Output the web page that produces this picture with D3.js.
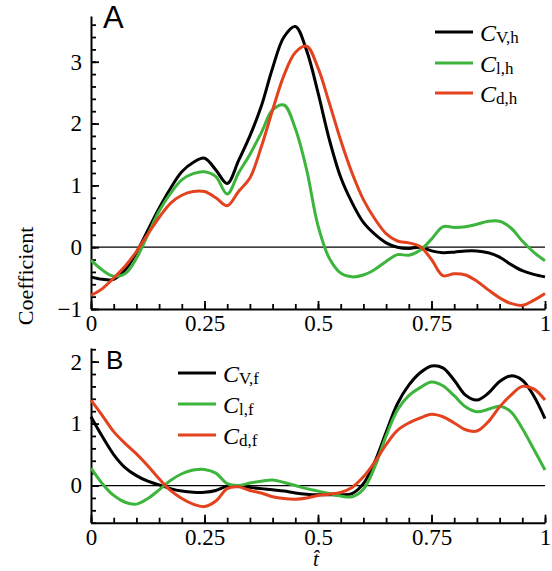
<!DOCTYPE html>
<html lang="en">
<head>
<meta charset="UTF-8">
<title>Coefficients</title>
<style>
  body { margin: 0; background: #fff; }
</style>
</head>
<body>
<svg id="chart"></svg>
<script src="https://cdn.jsdelivr.net/npm/d3@7"></script>
<script>

// normalised time, shared by both panels
var tHat = [0, 0.025, 0.05, 0.075, 0.1, 0.125, 0.15, 0.175, 0.2, 0.225,
            0.25, 0.275, 0.3, 0.325, 0.35, 0.375, 0.4, 0.425, 0.45, 0.475,
            0.5, 0.525, 0.55, 0.575, 0.6, 0.625, 0.65, 0.675, 0.7, 0.725,
            0.75, 0.775, 0.8, 0.825, 0.85, 0.875, 0.9, 0.925, 0.95, 0.975, 1];

// panel A (h)
var cVh = [-0.48, -0.52, -0.52, -0.37, -0.09, 0.27, 0.63, 0.95, 1.22, 1.37,
           1.44, 1.25, 1.03, 1.40, 1.80, 2.28, 2.90, 3.40, 3.57, 3.18,
           2.50, 1.74, 1.13, 0.72, 0.40, 0.21, 0.07, 0.00, -0.02, 0.00,
           -0.06, -0.09, -0.08, -0.06, -0.06, -0.09, -0.16, -0.28, -0.38, -0.44, -0.48];
var cLh = [-0.21, -0.37, -0.47, -0.43, -0.18, 0.20, 0.58, 0.87, 1.09, 1.19,
           1.22, 1.14, 0.86, 1.20, 1.50, 1.85, 2.22, 2.30, 1.92, 1.25,
           0.35, -0.18, -0.42, -0.48, -0.45, -0.36, -0.23, -0.12, -0.13, -0.05,
           0.13, 0.33, 0.32, 0.33, 0.37, 0.42, 0.42, 0.31, 0.10, -0.08, -0.22];
var cDh = [-0.78, -0.67, -0.50, -0.31, -0.07, 0.21, 0.48, 0.71, 0.84, 0.90,
           0.90, 0.80, 0.67, 0.90, 1.12, 1.62, 2.22, 2.78, 3.15, 3.25,
           2.90, 2.33, 1.73, 1.20, 0.77, 0.46, 0.22, 0.10, 0.07, 0.01,
           -0.20, -0.46, -0.43, -0.45, -0.55, -0.69, -0.82, -0.91, -0.94, -0.86, -0.75];

// panel B (f)
var cVf = [1.11, 0.79, 0.50, 0.29, 0.16, 0.07, 0.01, -0.05, -0.09, -0.11,
           -0.11, -0.08, -0.01, 0.00, -0.03, -0.05, -0.07, -0.09, -0.12, -0.14,
           -0.15, -0.15, -0.15, -0.13, 0.03, 0.38, 0.86, 1.32, 1.62, 1.82,
           1.93, 1.90, 1.70, 1.46, 1.38, 1.49, 1.68, 1.77, 1.70, 1.45, 1.08];
var cLf = [0.28, 0.03, -0.16, -0.27, -0.30, -0.21, -0.07, 0.08, 0.19, 0.25,
           0.26, 0.20, 0.03, 0.00, 0.04, 0.07, 0.09, 0.05, 0.00, -0.05,
           -0.09, -0.13, -0.17, -0.18, -0.06, 0.30, 0.80, 1.22, 1.45, 1.58,
           1.67, 1.61, 1.45, 1.27, 1.19, 1.23, 1.28, 1.19, 0.92, 0.59, 0.25];
var cDf = [1.38, 1.13, 0.87, 0.68, 0.51, 0.32, 0.11, -0.08, -0.21, -0.30,
           -0.34, -0.25, -0.05, -0.02, -0.08, -0.12, -0.18, -0.21, -0.22, -0.20,
           -0.16, -0.14, -0.11, -0.03, 0.14, 0.38, 0.66, 0.89, 1.01, 1.09,
           1.15, 1.11, 1.01, 0.90, 0.88, 1.03, 1.27, 1.46, 1.60, 1.56, 1.38];

var namesA = ["V,h", "l,h", "d,h"];
var namesB = ["V,f", "l,f", "d,f"];
var colors = ["#000000", "#3db53d", "#e3421f"];

var xTicks = [0, 0.25, 0.5, 0.75, 1];
var xTickLabels = ["0", "0.25", "0.5", "0.75", "1"];
var yTicksA = [-1, 0, 1, 2, 3];
var yTicksB = [0, 1, 2];

var serif = '"Liberation Serif", "Times New Roman", Times, serif';
var sans = '"Liberation Sans", Arial, Helvetica, sans-serif';

var svgWidth = 552, svgHeight = 571;
var svg = d3.select('#chart')
    .attr('width', svgWidth)
    .attr('height', svgHeight);

var x = d3.scaleLinear().domain([0, 1]).range([91, 545]);

var panels = [
    {
        letter: "A", letterX: 103, letterY: 28, letterSize: 31,
        y: d3.scaleLinear().domain([-1, 3.74]).range([309, 16]),
        yTicks: yTicksA, minorFrom: -1, minorTo: 3.7,
        series: [cVh, cLh, cDh], names: namesA,
        legX: 435, legY: [32, 63, 93]
    },
    {
        letter: "B", letterX: 106, letterY: 369, letterSize: 26,
        y: d3.scaleLinear().domain([-0.6, 2.22]).range([522.7, 348]),
        yTicks: yTicksB, minorFrom: -0.6, minorTo: 2.21,
        series: [cVf, cLf, cDf], names: namesB,
        legX: 178, legY: [373, 404, 435]
    }
];

panels.forEach(function (p) {
    var g = svg.append('g');
    var y = p.y;
    var y0 = y.range()[0];

    // minor ticks
    g.append('g')
        .attr('transform', 'translate(91,0)')
        .call(d3.axisLeft(y).tickValues(d3.range(p.minorFrom, p.minorTo, 0.2)).tickSize(-5).tickFormat(''))
        .call(function (a) { a.select('.domain').remove(); });
    g.append('g')
        .attr('transform', 'translate(0,' + y0 + ')')
        .call(d3.axisBottom(x).tickValues(d3.range(0, 1.001, 0.05)).tickSize(-5).tickFormat(''))
        .call(function (a) { a.select('.domain').remove(); });

    // major axes
    var ya = g.append('g')
        .attr('transform', 'translate(91,0)')
        .call(d3.axisLeft(y).tickValues(p.yTicks).tickSize(-8).tickSizeOuter(0).tickPadding(9)
            .tickFormat(d3.format('')));
    var xa = g.append('g')
        .attr('transform', 'translate(0,' + y0 + ')')
        .call(d3.axisBottom(x).tickValues(xTicks).tickSize(-8).tickSizeOuter(0).tickPadding(6)
            .tickFormat(function (d, i) { return xTickLabels[i]; }));

    [ya, xa].forEach(function (a) {
        a.selectAll('text').style('font-family', serif).style('font-size', '23px');
        a.select('.domain').attr('stroke-width', 2);
    });
    g.selectAll('.tick line').attr('stroke-width', 1.8);

    // zero line
    g.append('line')
        .attr('x1', x(0)).attr('x2', x(1))
        .attr('y1', y(0)).attr('y2', y(0))
        .attr('stroke', '#000').attr('stroke-width', 1.3);

    var line = d3.line()
        .x(function (d, i) { return x(tHat[i]); })
        .y(function (d) { return y(d); })
        .curve(d3.curveCatmullRom.alpha(0.5));

    p.series.forEach(function (s, k) {
        g.append('path')
            .attr('d', line(s))
            .attr('fill', 'none')
            .attr('stroke', colors[k])
            .attr('stroke-width', 3)
            .attr('stroke-linejoin', 'round');
    });

    // panel letter
    g.append('text')
        .attr('x', p.letterX).attr('y', p.letterY)
        .style('font-family', sans)
        .style('font-size', p.letterSize + 'px')
        .text(p.letter);

    // legend
    p.names.forEach(function (n, k) {
        var ly = p.legY[k];
        g.append('line')
            .attr('x1', p.legX).attr('x2', p.legX + 38)
            .attr('y1', ly).attr('y2', ly)
            .attr('stroke', colors[k]).attr('stroke-width', 3);
        var t = g.append('text')
            .attr('x', p.legX + 45).attr('y', ly + 8.5)
            .style('font-family', serif);
        t.append('tspan').style('font-style', 'italic').style('font-size', '24px').text('C');
        t.append('tspan').style('font-size', '17px').attr('dy', 2).text(n);
    });
});

// axis titles
svg.append('text')
    .attr('transform', 'translate(33,276) rotate(-90)')
    .attr('text-anchor', 'middle')
    .style('font-family', serif)
    .style('font-size', '22px')
    .text('Coefficient');

svg.append('text')
    .attr('x', 316).attr('y', 566)
    .attr('text-anchor', 'middle')
    .style('font-family', serif)
    .style('font-size', '21px')
    .style('font-style', 'italic')
    .text('t\u0302');

</script>
</body>
</html>
